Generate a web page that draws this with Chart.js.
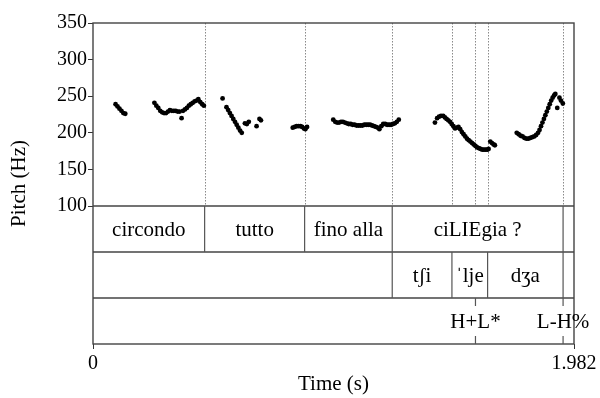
<!DOCTYPE html>
<html>
<head>
<meta charset="utf-8">
<script src="https://cdn.jsdelivr.net/npm/chart.js@4.4.0/dist/chart.umd.min.js"></script>
<style>
  body { margin: 0; background: #fff; }
  canvas { display: block; }
</style>
</head>
<body>
<canvas id="chart" width="600" height="398"></canvas>
<script>
// pitch track: time (s) and F0 (Hz)
const pitchTime = [
  0.093, 0.101, 0.109, 0.117, 0.125, 0.133,
  0.253, 0.261, 0.269, 0.277, 0.285, 0.293, 0.301, 0.309, 0.317, 0.325, 0.333, 0.341, 0.349, 0.357,
  0.365, 0.371, 0.379, 0.387, 0.395, 0.403, 0.411, 0.419, 0.427, 0.434, 0.442, 0.450, 0.457,
  0.534, 0.550, 0.557, 0.564, 0.571, 0.578, 0.585, 0.592, 0.599, 0.606, 0.613, 0.626, 0.634, 0.642,
  0.674, 0.686, 0.692,
  0.823, 0.831, 0.839, 0.847, 0.855, 0.862, 0.869, 0.875, 0.882,
  0.990, 0.998, 1.006, 1.014, 1.022, 1.030, 1.038, 1.046, 1.054, 1.062, 1.070, 1.078, 1.086, 1.094,
  1.102, 1.110, 1.118, 1.126, 1.134, 1.142, 1.150, 1.158, 1.166, 1.174, 1.180, 1.188, 1.196, 1.204,
  1.212, 1.220, 1.228, 1.236, 1.244, 1.252, 1.260,
  1.409, 1.418, 1.426, 1.434, 1.443, 1.450, 1.457, 1.464, 1.471, 1.478, 1.485, 1.492, 1.499, 1.506,
  1.513, 1.520, 1.527, 1.534, 1.541, 1.548, 1.555, 1.562, 1.569, 1.576, 1.583, 1.590, 1.597, 1.604,
  1.611, 1.618, 1.625, 1.630, 1.637, 1.644, 1.651, 1.656,
  1.746, 1.754, 1.762, 1.770, 1.778, 1.786, 1.794, 1.802, 1.810, 1.818, 1.826, 1.834, 1.840, 1.846,
  1.852, 1.858, 1.864, 1.870, 1.876, 1.882, 1.888, 1.894, 1.900, 1.905, 1.913, 1.922, 1.928, 1.936
];
const pitchHz = [
  239, 236, 233, 230, 227, 226,
  241, 237, 234, 230, 228, 227, 227, 229, 231, 230, 230, 230, 229, 229,
  220, 230, 232, 234, 237, 239, 241, 243, 244, 246, 242, 239, 237,
  247, 235, 231, 227, 223, 219, 215, 211, 207, 203, 200, 213, 212, 215,
  209, 219, 217,
  207, 208, 209, 209, 209, 208, 206, 205, 208,
  218, 215, 214, 214, 215, 215, 214, 213, 212, 212, 211, 211, 210, 210,
  210, 210, 211, 211, 211, 211, 210, 209, 208, 207, 205, 209, 212, 212,
  211, 211, 211, 212, 213, 215, 218,
  214, 220, 222, 223, 223, 221, 219, 217, 215, 212, 209, 206, 207, 208,
  205, 201, 198, 195, 192, 190, 188, 186, 184, 182, 180, 179, 178, 177,
  177, 177, 177, 178, 188, 186, 184, 183,
  200, 198, 196, 195, 193, 192, 192, 193, 194, 195, 197, 200, 204, 209,
  214, 219, 224, 229, 234, 239, 244, 248, 251, 253, 234, 248, 244, 240
];

const duration = 1.982;
const pitchTicks = [100, 150, 200, 250, 300, 350];
const timeTicks = [0, 1.982];

// tier 1: words
const wordBounds = [0, 0.460, 0.872, 1.233, 1.937, 1.982];
const wordLabels = ["circondo", "tutto", "fino alla", "ciLIEgia ?", ""];
// tier 2: syllables
const syllBounds = [0, 1.233, 1.479, 1.626, 1.937, 1.982];
const syllLabels = ["", "tʃi", "ˈlje", "dʒa", ""];
// tier 3: tones (point tier)
const toneTimes = [1.576, 1.937];
const toneLabels = ["H+L*", "L-H%"];

const FONT = "'Liberation Serif', 'Times New Roman', 'DejaVu Serif', serif";

function vline(ctx, x, y0, y1) {
  ctx.beginPath();
  ctx.moveTo(x, y0);
  ctx.lineTo(x, y1);
  ctx.stroke();
}

function hline(ctx, x0, x1, y) {
  ctx.beginPath();
  ctx.moveTo(x0, y);
  ctx.lineTo(x1, y);
  ctx.stroke();
}

const tierPlugin = {
  id: "tiers",
  beforeDatasetsDraw(chart) {
    const { ctx, chartArea: a, scales: { x, y } } = chart;
    const bottom = y.getPixelForValue(100);
    const marks = new Set();
    wordBounds.slice(1, -1).forEach(t => marks.add(t));
    syllBounds.slice(1, -1).forEach(t => marks.add(t));
    toneTimes.forEach(t => marks.add(t));

    ctx.save();
    ctx.strokeStyle = "#8a8a8a";
    ctx.lineWidth = 1;
    ctx.setLineDash([1.5, 1.5]);
    marks.forEach(t => {
      const px = Math.round(x.getPixelForValue(t)) + 0.5;
      vline(ctx, px, a.top, bottom);
    });
    ctx.restore();
  },
  afterDatasetsDraw(chart) {
    const { ctx, chartArea: a, scales: { x, y } } = chart;
    const top = y.getPixelForValue(100);
    const h = (a.bottom - top) / 3;

    ctx.save();
    ctx.strokeStyle = "#444";
    ctx.lineWidth = 1.4;

    // frame and tier rows
    ctx.strokeRect(a.left, a.top, a.right - a.left, a.bottom - a.top);
    for (let k = 0; k < 3; k++) hline(ctx, a.left, a.right, top + k * h);

    ctx.strokeStyle = "#555";
    ctx.lineWidth = 1.2;
    ctx.fillStyle = "#000";
    ctx.font = "21px " + FONT;
    ctx.textAlign = "center";
    ctx.textBaseline = "middle";

    // interval tiers
    [[wordBounds, wordLabels], [syllBounds, syllLabels]].forEach(([bounds, labels], k) => {
      const y0 = top + k * h, y1 = y0 + h;
      bounds.slice(1, -1).forEach(t => vline(ctx, x.getPixelForValue(t), y0, y1));
      labels.forEach((txt, i) => {
        if (!txt) return;
        const cx = (x.getPixelForValue(bounds[i]) + x.getPixelForValue(bounds[i + 1])) / 2;
        ctx.fillText(txt, cx, y0 + h / 2 + 1);
      });
    });

    // point tier
    const y0 = top + 2 * h, y1 = a.bottom;
    toneTimes.forEach((t, i) => {
      const px = x.getPixelForValue(t);
      vline(ctx, px, y0, y0 + 8);
      vline(ctx, px, y1 - 8, y1);
      ctx.fillText(toneLabels[i], px, y0 + h / 2 + 1);
    });
    ctx.restore();
  }
};

new Chart(document.getElementById("chart"), {
  type: "scatter",
  data: {
    datasets: [{
      data: pitchTime.map((t, i) => ({ x: t, y: pitchHz[i] })),
      backgroundColor: "#000",
      borderColor: "#000",
      pointRadius: 2.4,
      borderWidth: 0
    }]
  },
  options: {
    responsive: false,
    animation: false,
    events: [],
    layout: { padding: { top: 23, right: 26, left: 0, bottom: 0 } },
    plugins: { legend: { display: false }, tooltip: { enabled: false } },
    scales: {
      x: {
        type: "linear",
        min: 0,
        max: duration,
        afterBuildTicks: s => { s.ticks = timeTicks.map(v => ({ value: v })); },
        afterFit: s => { s.height = 54; },
        ticks: {
          color: "#000",
          padding: 3,
          maxRotation: 0,
          font: { family: FONT, size: 20 },
          callback: v => (v === 0 ? "0" : v.toFixed(3))
        },
        grid: { drawOnChartArea: false, drawTicks: true, tickLength: 5, color: "#333" },
        border: { display: false },
        title: {
          display: true,
          text: "Time (s)",
          color: "#000",
          font: { family: FONT, size: 21 },
          padding: { top: 0, bottom: 1 }
        }
      },
      y: {
        // below 100 Hz the axis holds the three annotation tiers
        min: -88.5,
        max: 350,
        afterBuildTicks: s => { s.ticks = pitchTicks.map(v => ({ value: v })); },
        afterFit: s => { s.width = 93; },
        ticks: {
          color: "#000",
          padding: 1,
          font: { family: FONT, size: 20 }
        },
        grid: { drawOnChartArea: false, drawTicks: true, tickLength: 5, color: "#333" },
        border: { display: false },
        title: {
          display: true,
          text: "Pitch (Hz)",
          color: "#000",
          font: { family: FONT, size: 21 },
          padding: { top: 7, bottom: 0 }
        }
      }
    }
  },
  plugins: [tierPlugin]
});
</script>
</body>
</html>
